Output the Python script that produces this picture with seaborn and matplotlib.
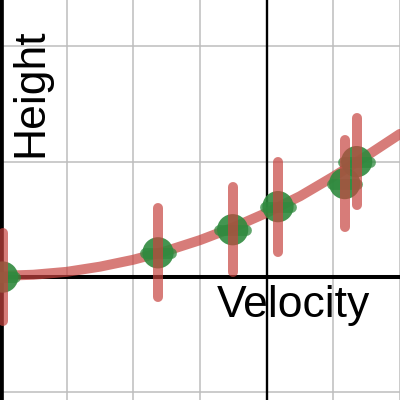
# plot.py
# Height vs Velocity - measured points with error bars and a fitted curve,
# drawn in the style of a graphing-calculator screen.

import matplotlib
matplotlib.use("Agg")
import matplotlib.pyplot as plt
from matplotlib.ticker import MultipleLocator
import pandas as pd
import seaborn as sb

velocity = [-3.96, -1.63, -0.51, 0.17, 1.17, 1.35]
height = [0.0, 0.21, 0.41, 0.61, 0.81, 1.0]
velocity_err = [0.19, 0.19, 0.2, 0.2, 0.19, 0.2]
height_err = [0.38, 0.385, 0.37, 0.39, 0.38, 0.375]

# fitted curve
curve_x = [-4, -3.5, -3, -2.5, -2, -1.5, -1, -0.5, 0, 0.5, 1, 1.5, 2]
curve_y = [0.01, 0.02, 0.045, 0.09, 0.15, 0.227, 0.32, 0.43, 0.557, 0.70, 0.87, 1.05, 1.24]

red = "#c74440"
green = "#2f8a3e"

points = pd.DataFrame({"Velocity": velocity, "Height": height})
curve = pd.DataFrame({"x": curve_x, "y": curve_y})

sb.set_theme(style="white")
plt.rcParams["font.family"] = ["Liberation Sans", "DejaVu Sans"]

fig = plt.figure(figsize=(4, 4), dpi=100)
ax = fig.add_axes([0, 0, 1, 1])

# axis lines
ax.axhline(0, color="black", lw=2.9, zorder=1)
ax.axvline(0, color="black", lw=1.7, zorder=1)

# the curve
sb.lineplot(data=curve, x="x", y="y", ax=ax, color=red, alpha=0.7,
            lw=7.2, solid_capstyle="round", zorder=2)

# points
sb.scatterplot(data=points, x="Velocity", y="Height", ax=ax, color=green,
               alpha=0.9, s=22.5 ** 2, edgecolor="none", zorder=3)

# horizontal error bars (green)
eb = ax.errorbar(velocity, height, xerr=velocity_err, fmt="none",
                 ecolor=green, alpha=0.75, elinewidth=7.8, zorder=3.5)
for c in eb[2]:
    c.set_capstyle("round")

# vertical error bars (red)
eb = ax.errorbar(velocity, height, yerr=height_err, fmt="none",
                 ecolor=red, alpha=0.7, elinewidth=7.2, zorder=4)
for c in eb[2]:
    c.set_capstyle("round")

ax.set_xlim(-4, 2)
ax.set_ylim(-1.065, 2.4)
ax.xaxis.set_major_locator(MultipleLocator(1))
ax.yaxis.set_major_locator(MultipleLocator(1))
ax.grid(True, color="#bdbdbd", lw=1.1, zorder=0)
ax.set_axisbelow(True)
ax.tick_params(length=0, labelbottom=False, labelleft=False)
ax.set_xlabel("")
ax.set_ylabel("")

for side in ["top", "right", "bottom"]:
    ax.spines[side].set_visible(False)
ax.spines["left"].set_color("black")
ax.spines["left"].set_linewidth(4.8)

# axis labels placed inside the plot area
ax.text(0.5425, 0.2075, "Velocity", transform=ax.transAxes, fontsize=32,
        ha="left", va="baseline", color="black")
ax.text(0.105, 0.6075, "Height", transform=ax.transAxes, fontsize=32,
        rotation=90, rotation_mode="anchor", ha="left", va="baseline",
        color="black")

plt.savefig("out.png", dpi=100)
